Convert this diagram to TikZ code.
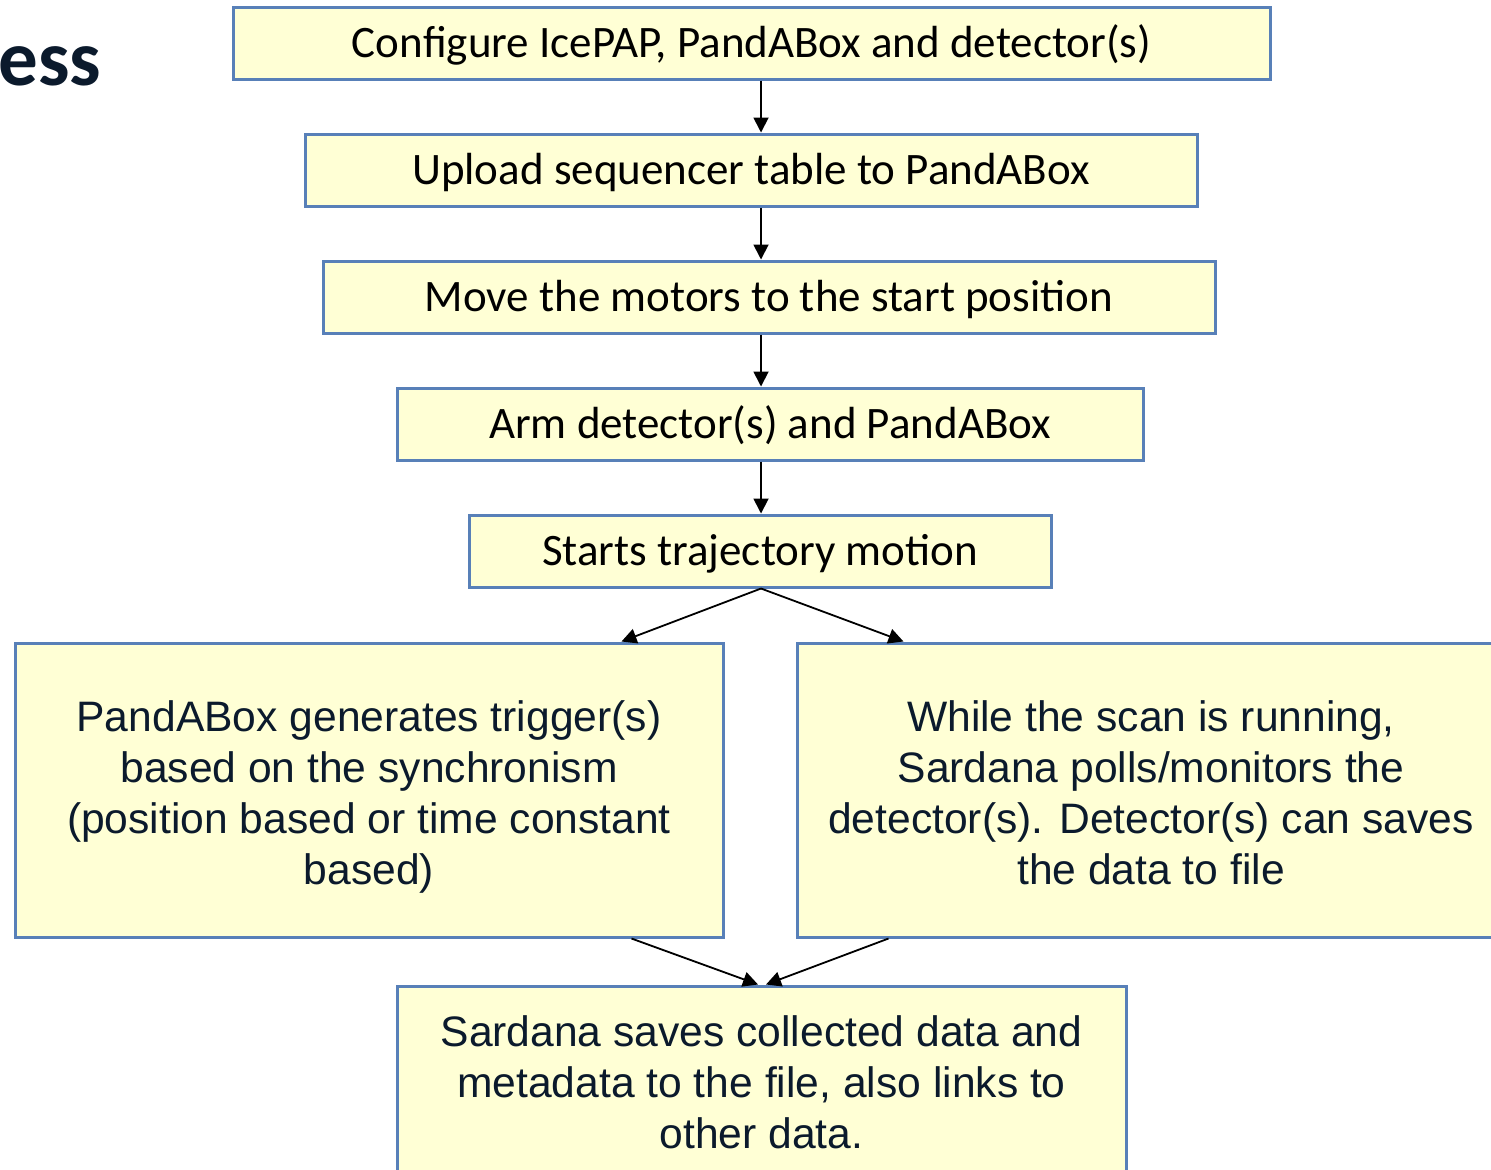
\documentclass[tikz,border=0pt]{standalone}
\usepackage{xcolor}
\usepackage{fontspec}
\setmainfont{Carlito}
\newfontfamily\arialfont{Liberation Sans}
\usepackage{tikz}
\usetikzlibrary{arrows.meta}
\usetikzlibrary{positioning}
\definecolor{boxfill}{HTML}{FFFFD5}
\definecolor{boxline}{HTML}{5880B8}
\definecolor{inkblue}{HTML}{0B1A2C}
\tikzset{
stage/.style = { rectangle, draw = boxline, fill = boxfill, line width = 1.5pt, inner sep = 0pt, minimum height = 36pt, text height = 18pt, text depth = 4pt, font = \fontsize{22.5}{26}\selectfont, text = black },
bigstage/.style = { rectangle, draw = boxline, fill = boxfill, line width = 1.5pt, inner sep = 0pt },
bigtext/.style = { inner sep = 0pt, align = center, font = \arialfont\fontsize{21.3}{25.5}\selectfont, text = inkblue },
flow/.style = { draw = black, line width = 0.9pt, -{Triangle[length = 7.5pt, width = 7.5pt]} },
}

\begin{document}
\begin{tikzpicture}[x = 0.5pt, y = -0.5pt]
    \useasboundingbox (0, 0) rectangle (1491, 1169);
    \clip (0, 0) rectangle (1491, 1169);
    \node[anchor = base east, inner sep = 0pt, text = inkblue, font = \bfseries\fontsize{39.5}{44}\selectfont] (title) at (101.5, 85) {ess};
    \coordinate (axis) at (761, 0);
    \node[stage, minimum width = 518.5pt] (configure) at (751.5, 43) {Configure IcePAP, PandABox and detector(s)};
    \node[stage, minimum width = 446pt] (upload) at (751, 170) {Upload sequencer table to PandABox};
    \node[stage, minimum width = 446pt] (move) at (769, 297) {Move the motors to the start position};
    \node[stage, minimum width = 373pt] (arm) at (770, 424) {Arm detector(s) and PandABox};
    \node[stage, minimum width = 291pt] (start) at (760, 551) {Starts trajectory motion};
    \node[bigstage, minimum width = 354pt, minimum height = 147pt] (trigger) at (369, 790) {};
    \node[bigtext] (triggertext) at ([yshift = -3.5pt]trigger.center) {PandABox generates trigger(s)\\based on the synchronism\\(position based or time constant\\based)};
    \node[bigstage, minimum width = 354pt, minimum height = 147pt] (poll) at (1151, 790) {};
    \node[bigtext] (polltext) at ([yshift = -1.5pt]poll.center) {While the scan is running,\\Sardana polls/monitors the\\detector(s). Detector(s) can saves\\the data to file};
    \node[bigstage, minimum width = 364.5pt, minimum height = 96pt] (save) at (761.5, 1082) {};
    \node[bigtext] (savetext) at (save.center) {Sardana saves collected data and\\metadata to the file, also links to\\other data.};
    % straight chain
    \draw[flow] (configure.south -| axis) -- (upload.north -| axis);
    \draw[flow] (upload.south -| axis) -- (move.north -| axis);
    \draw[flow] (move.south -| axis) -- (arm.north -| axis);
    \draw[flow] (arm.south -| axis) -- (start.north -| axis);
    % split and join
    \draw[flow] (start.south -| axis) -- ([xshift = -51.5pt]trigger.north east);
    \draw[flow] (start.south -| axis) -- ([xshift = 54pt]poll.north west);
    \draw[flow] ([xshift = -46.5pt]trigger.south east) -- ([xshift = -1.75pt]save.north);
    \draw[flow] ([xshift = 46.5pt]poll.south west) -- ([xshift = 2.25pt]save.north);
\end{tikzpicture}
\end{document}
